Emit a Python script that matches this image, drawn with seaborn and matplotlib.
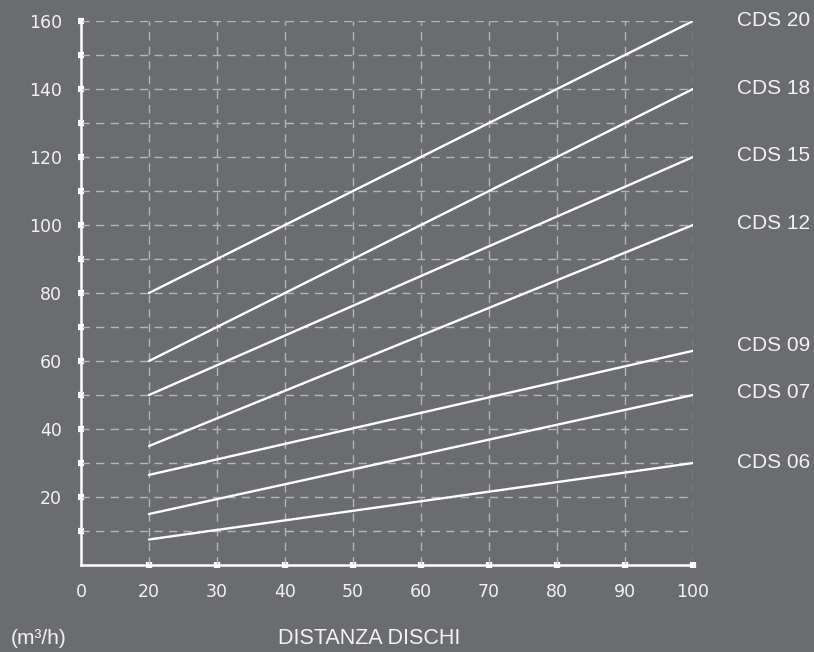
import matplotlib
matplotlib.use("Agg")
import matplotlib.pyplot as plt
import seaborn as sns
import pandas as pd

# ---- data ----
x_ticks = [0, 20, 30, 40, 50, 60, 70, 80, 90, 100]
series = ["CDS 20", "CDS 18", "CDS 15", "CDS 12", "CDS 09", "CDS 07", "CDS 06"]
dist = [20, 100]
start_vals = [80, 60, 50, 35, 26.5, 15, 7.5]
end_vals = [160, 140, 120, 100, 63, 50, 30]
label_y = [160, 140, 120.3, 100.3, 64.7, 50.6, 30]
y_major = [20, 40, 60, 80, 100, 120, 140, 160]
y_all = list(range(10, 161, 10))

BG = "#6b6c70"
FG = "#f2f2f2"
pos_of = {v: i for i, v in enumerate(x_ticks)}

rows = []
for s, a, b in zip(series, start_vals, end_vals):
    rows.append({"series": s, "pos": pos_of[dist[0]], "val": a})
    rows.append({"series": s, "pos": pos_of[dist[1]], "val": b})
df = pd.DataFrame(rows)

sns.set_style("white")
plt.rcParams["font.family"] = ["DejaVu Sans"]

fig = plt.figure(figsize=(8.14, 6.52), dpi=100, facecolor=BG)
ax = fig.add_axes([81 / 814, 1 - 565 / 652, (693 - 81) / 814, (565 - 21) / 652])
ax.set_facecolor(BG)

# grid
for y in y_all:
    ax.axhline(y, color="#b4b5b8", lw=1.0, ls=(0, (6, 4.5)), zorder=1)
for p in range(1, len(x_ticks)):
    ax.axvline(p, color="#b4b5b8", lw=1.0, ls=(0, (6, 4.5)), zorder=1)

sns.lineplot(data=df, x="pos", y="val", units="series", estimator=None,
             color="white", lw=1.7, ax=ax, legend=False, zorder=3)

ax.set_xlim(0, len(x_ticks) - 1)
ax.set_ylim(0, 160)

for sp in ["top", "right"]:
    ax.spines[sp].set_visible(False)
for sp in ["left", "bottom"]:
    ax.spines[sp].set_color("white")
    ax.spines[sp].set_linewidth(1.8)
    ax.spines[sp].set_zorder(4)

ax.set_xticks(range(len(x_ticks)))
ax.set_xticklabels([str(v) for v in x_ticks])
ax.set_yticks(y_all)
ax.set_yticklabels([str(v) if v in y_major else "" for v in y_all])
ax.tick_params(axis="both", bottom=True, left=True, direction="inout", length=4.5,
               width=4.5, color="white", labelcolor=FG, labelsize=12.5)
ax.tick_params(axis="x", pad=11)
ax.tick_params(axis="y", pad=11.5)
ax.xaxis.get_major_ticks()[0].tick1line.set_visible(False)
ax.set_xlabel("")
ax.set_ylabel("")

for s, ly in zip(series, label_y):
    ax.text(737 / 814, 1 - (565 - ly * 3.4) / 652, s, transform=fig.transFigure,
            ha="left", va="center", color=FG, fontsize=15, family="Liberation Sans")

fig.text(11 / 814, 1 - 639 / 652, "(m³/h)", ha="left", va="center", color=FG,
         fontsize=15, family="Liberation Sans")
fig.text(278 / 814, 1 - 639 / 652, "DISTANZA DISCHI", ha="left", va="center",
         color=FG, fontsize=15.5, family="Liberation Sans")

fig.savefig("out.png", dpi=100, facecolor=BG)
